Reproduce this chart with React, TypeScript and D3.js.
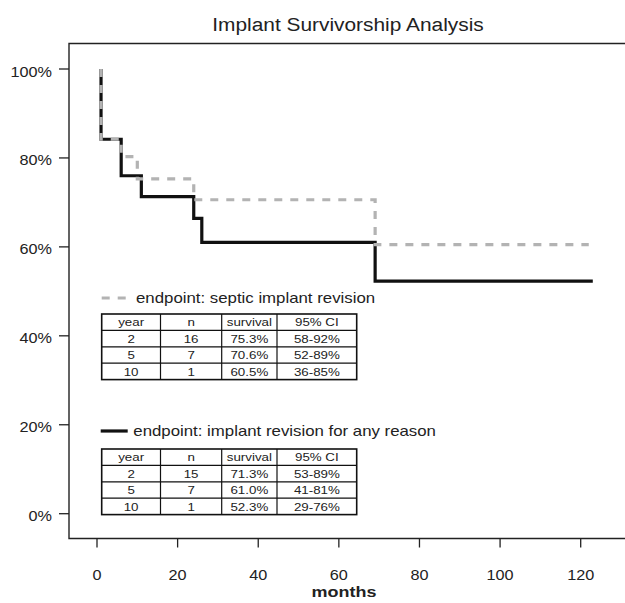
import * as d3 from "d3";

// survival curves (event months, survival after each step)
const septicTimes = [1, 6, 10, 24, 69];
const septicSurv = [0.842, 0.803, 0.753, 0.706, 0.605];
const septicEnd = 122;

const anyTimes = [1, 6, 11, 24, 26, 69];
const anySurv = [0.842, 0.76, 0.713, 0.664, 0.61, 0.523];
const anyEnd = 123;

const xTicks = [0, 20, 40, 60, 80, 100, 120];
const yTicks = [0, 0.2, 0.4, 0.6, 0.8, 1];

const tableHeader = ["year", "n", "survival", "95% CI"];
const septicTable = [
  ["2", "16", "75.3%", "58-92%"],
  ["5", "7", "70.6%", "52-89%"],
  ["10", "1", "60.5%", "36-85%"],
];
const anyTable = [
  ["2", "15", "71.3%", "53-89%"],
  ["5", "7", "61.0%", "41-81%"],
  ["10", "1", "52.3%", "29-76%"],
];

const W = 625;
const H = 603;
const box = { left: 69, top: 43.5, right: 627, bottom: 538.5 };
const font = "Liberation Sans, Arial, Helvetica, sans-serif";
// the original picture is a bit wider than tall, so text is stretched sideways
const SX = 1.16;

const x = d3.scaleLinear().domain([0, 120]).range([97, 580.7]);
const y = d3.scaleLinear().domain([0, 1]).range([513.7, 69]);

// Kaplan-Meier style step path: vertical drops at each event time
const stepLine = (times: number[], surv: number[], end: number) => {
  const path = d3.path();
  path.moveTo(x(times[0]), y(1));
  let prev = 1;
  times.forEach((t, i) => {
    path.lineTo(x(t), y(prev));
    path.lineTo(x(t), y(surv[i]));
    prev = surv[i];
  });
  path.lineTo(x(end), y(prev));
  return path.toString();
};

function T({
  x: tx,
  y: ty,
  size,
  anchor = "start",
  bold = false,
  children,
}: {
  x: number;
  y: number;
  size: number;
  anchor?: "start" | "middle" | "end";
  bold?: boolean;
  children: React.ReactNode;
}) {
  return (
    <text
      transform={`translate(${tx},${ty}) scale(${SX},1)`}
      textAnchor={anchor}
      fontSize={size}
      fontWeight={bold ? "bold" : "normal"}
      fill="#222"
    >
      {children}
    </text>
  );
}

const colX = [101.7, 160.5, 221.7, 277, 356.7];
const rowH = 16.4;

function Table({ top, rows }: { top: number; rows: string[][] }) {
  const all = [tableHeader, ...rows];
  const bottom = top + rowH * all.length;
  return (
    <g>
      <rect
        x={colX[0]}
        y={top}
        width={colX[4] - colX[0]}
        height={bottom - top}
        fill="none"
        stroke="#111"
        strokeWidth={1.6}
      />
      {rows.map((_, i) => (
        <line
          key={"r" + i}
          x1={colX[0]}
          x2={colX[4]}
          y1={top + rowH * (i + 1)}
          y2={top + rowH * (i + 1)}
          stroke="#111"
          strokeWidth={1.2}
        />
      ))}
      {colX.slice(1, 4).map((cx, i) => (
        <line key={"c" + i} x1={cx} x2={cx} y1={top} y2={bottom} stroke="#111" strokeWidth={1.2} />
      ))}
      {all.map((row, ri) =>
        row.map((cell, ci) => (
          <T
            key={ri + "-" + ci}
            x={(colX[ci] + colX[ci + 1]) / 2}
            y={top + rowH * ri + 12.4}
            size={11.5}
            anchor="middle"
          >
            {cell}
          </T>
        ))
      )}
    </g>
  );
}

export default function App() {
  return (
    <svg
      width={W}
      height={H}
      style={{ position: "absolute", left: 0, top: 0, background: "#fff" }}
      fontFamily={font}
    >
      <T x={348} y={30.5} size={18} anchor="middle">
        Implant Survivorship Analysis
      </T>

      {/* plot frame (right side falls outside the picture) */}
      <path
        d={`M${box.right},${box.top}H${box.left}V${box.bottom}H${box.right}`}
        fill="none"
        stroke="#222"
        strokeWidth={1.4}
      />

      {/* y axis */}
      {yTicks.map((t) => (
        <g key={"y" + t}>
          <line x1={59} x2={box.left} y1={y(t)} y2={y(t)} stroke="#222" strokeWidth={1.3} />
          <T x={52} y={y(t) + 7.5} size={14} anchor="end">
            {d3.format(".0%")(t)}
          </T>
        </g>
      ))}

      {/* x axis */}
      {xTicks.map((t) => (
        <g key={"x" + t}>
          <line x1={x(t)} x2={x(t)} y1={box.bottom} y2={box.bottom + 9} stroke="#222" strokeWidth={1.3} />
          <T x={x(t)} y={580} size={14} anchor="middle">
            {t}
          </T>
        </g>
      ))}
      <T x={344} y={597} size={15.5} anchor="middle" bold>
        months
      </T>

      {/* curves */}
      <path d={stepLine(anyTimes, anySurv, anyEnd)} fill="none" stroke="#111" strokeWidth={3.2} />
      <path
        d={stepLine(septicTimes, septicSurv, septicEnd)}
        fill="none"
        stroke="#b3b3b3"
        strokeWidth={3.2}
        strokeDasharray="8,8"
      />

      {/* legend + table: septic */}
      <line x1={101.7} x2={126} y1={298} y2={298} stroke="#b3b3b3" strokeWidth={3.2} strokeDasharray="8,8" />
      <T x={136} y={302.5} size={14.5}>
        endpoint: septic implant revision
      </T>
      <Table top={314} rows={septicTable} />

      {/* legend + table: any reason */}
      <line x1={100.7} x2={127.7} y1={431} y2={431} stroke="#111" strokeWidth={3.2} />
      <T x={133.3} y={436} size={14.5}>
        endpoint: implant revision for any reason
      </T>
      <Table top={449} rows={anyTable} />
    </svg>
  );
}
